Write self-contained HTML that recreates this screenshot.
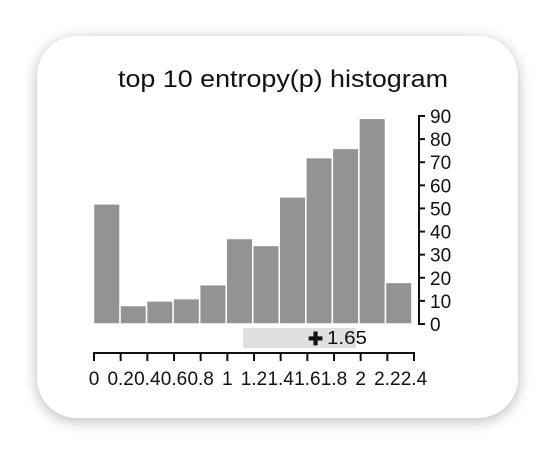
<!DOCTYPE html>
<html><head><style>
body{margin:0;width:554px;height:454px;background:#fff;overflow:hidden;font-family:"Liberation Sans",sans-serif;}
#card{position:absolute;left:37px;top:36px;width:481px;height:382px;background:#fff;border-radius:40px;box-shadow:0 3px 14px rgba(0,0,0,0.28);}
</style></head><body>
<div id="card"></div>
<svg id="chart" width="554" height="454" style="position:absolute;left:0;top:0">
<text x="118" y="87" font-size="24" textLength="330" lengthAdjust="spacingAndGlyphs" fill="#111">top 10 entropy(p) histogram</text>
<g id="bars"></g><g id="yaxis"></g><g id="xaxis"></g>
<rect x="243" y="328" width="113" height="20" fill="#e0e0e0"/>
<text x="308" y="345" font-size="18" font-weight="bold" fill="#111">✚</text>
<text x="327" y="344" font-size="18" textLength="40" lengthAdjust="spacingAndGlyphs" fill="#111">1.65</text>
</svg>
<script>
const counts=[52,8,10,11,17,37,34,55,72,76,89,18];
const binStarts=[0,0.2,0.4,0.6,0.8,1,1.2,1.4,1.6,1.8,2,2.2];
const yTicks=[0,10,20,30,40,50,60,70,80,90];
const xTicks=[0,0.2,0.4,0.6,0.8,1,1.2,1.4,1.6,1.8,2,2.2,2.4];
const xTickLabels=["0","0.2","0.4","0.6","0.8","1","1.2","1.4","1.6","1.8","2","2.2","2.4"];
const NS="http://www.w3.org/2000/svg";
const y=v=>324-v*(208/90);
const xb=v=>93.5+v*(318.5/2.4);
const xa=v=>94+v*(320/2.4);
function mk(t,a){const e=document.createElementNS(NS,t);for(const k in a)e.setAttribute(k,a[k]);return e;}
const bars=document.getElementById('bars');
counts.forEach((c,i)=>{const x0=xb(binStarts[i]),x1=xb(binStarts[i]+0.2);
const r=mk('rect',{x:x0,y:y(c),width:x1-x0,height:324-y(c),fill:'#939393',stroke:'#fff','stroke-width':1.5});


bars.appendChild(r);});
const ya=document.getElementById('yaxis');
ya.appendChild(mk('path',{d:`M424,${y(90)}H419V${y(0)}H424`,stroke:'#111','stroke-width':2,fill:'none'}));
yTicks.forEach(t=>{ya.appendChild(mk('line',{x1:419,x2:425,y1:y(t),y2:y(t),stroke:'#111','stroke-width':2}));
const tx=mk('text',{x:430,y:y(t)+7,'font-size':19,fill:'#111'});tx.textContent=t;


ya.appendChild(tx);});
const xg=document.getElementById('xaxis');
xg.appendChild(mk('line',{x1:xa(0),x2:xa(2.4),y1:353,y2:353,stroke:'#111','stroke-width':2}));
xTicks.forEach((t,i)=>{xg.appendChild(mk('line',{x1:xa(t),x2:xa(t),y1:352,y2:361,stroke:'#111','stroke-width':2}));
const tx=mk('text',{x:xa(t),y:385,'font-size':19,fill:'#111','text-anchor':'middle'});tx.textContent=xTickLabels[i];


xg.appendChild(tx);});
</script>
</body></html>
